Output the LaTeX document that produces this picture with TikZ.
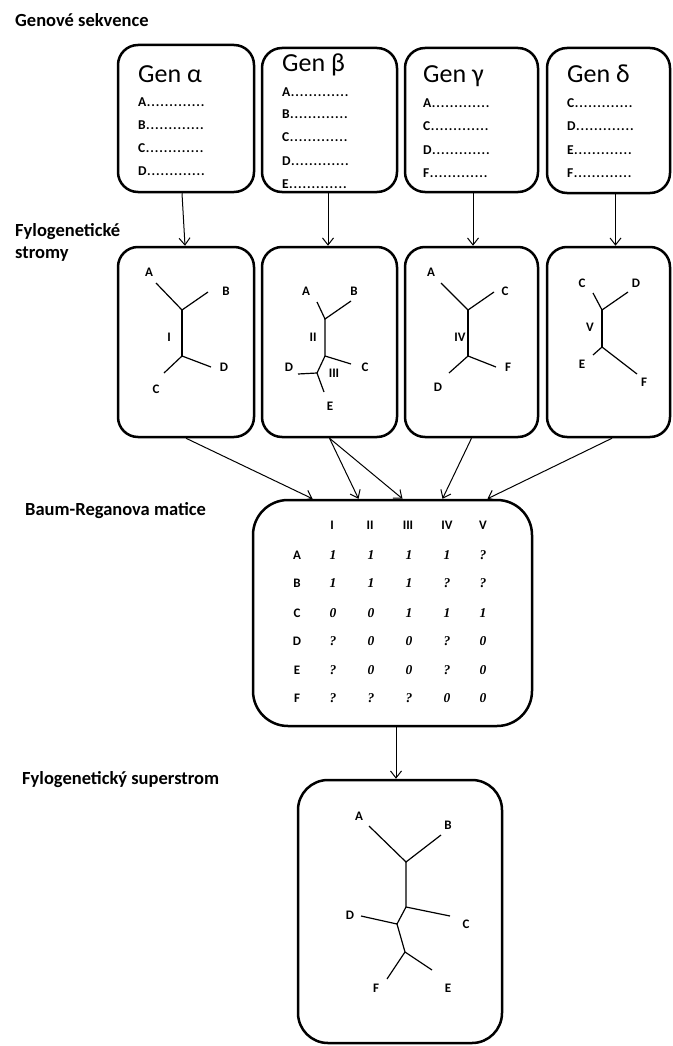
\documentclass[tikz,border=0pt]{standalone}
\usepackage{fontspec}
\setmainfont{Carlito}
\newfontfamily\valfont{Liberation Serif}
\usetikzlibrary{arrows.meta,calc}
\newcommand\dotrow[1]{#1\foreach\k in {1,...,13}{\makebox[4.5pt]{.}}}
\tikzset{
 box/.style={draw, line width=2.5pt, rounded corners=20pt, inner sep=0pt},
 conn/.style={line width=1pt, -{Straight Barb[length=7pt,width=11pt,line width=1pt]}},
 tline/.style={line width=1.2pt},
 title/.style={anchor=base west, inner sep=0pt, font=\fontsize{18.5}{22}\selectfont\bfseries},
 gen/.style={anchor=base west, inner sep=0pt, font=\fontsize{26}{30}\selectfont},
 seq/.style={anchor=base west, inner sep=0pt, font=\fontsize{13.5}{16}\selectfont\bfseries},
 lab/.style={inner sep=0pt, font=\fontsize{13}{15}\selectfont\bfseries},
 val/.style={inner sep=0pt, font=\fontsize{13.5}{15}\valfont\bfseries\itshape},
}
\begin{document}
\begin{tikzpicture}[x=1pt,y=-1pt]
\fill[white] (0,0) rectangle (672,1046);
\useasboundingbox (0,0) rectangle (672,1046);

% titles
\node[title] (h1) at (15,27) {Genové sekvence};
\node[title] (h2a) at (15,236) {Fylogenetické};
\node[title] (h2b) at (15,258) {stromy};
\node[title] (h3) at (25,515) {Baum-Reganova matice};
\node[title] (h4) at (22,784) {Fylogenetický superstrom};

% sequence boxes
\node[box, minimum width=136pt, minimum height=147pt] (g1) at (186,118.5) {};
\node[box, minimum width=135pt, minimum height=144pt] (g2) at (329.5,120) {};
\node[box, minimum width=133pt, minimum height=144pt] (g3) at (471.5,120) {};
\node[box, minimum width=123pt, minimum height=145pt] (g4) at (608.5,120.5) {};

\node[gen] (n1) at (138,83) {Gen α};
\node[seq] (s1a) at (138,107) {\dotrow{A}};
\node[seq] (s1b) at (138,129) {\dotrow{B}};
\node[seq] (s1c) at (138,152) {\dotrow{C}};
\node[seq] (s1d) at (138,175) {\dotrow{D}};

\node[gen] (n2) at (282,72) {Gen β};
\node[seq] (s2a) at (282,97) {\dotrow{A}};
\node[seq] (s2b) at (282,119) {\dotrow{B}};
\node[seq] (s2c) at (282,141) {\dotrow{C}};
\node[seq] (s2d) at (282,165) {\dotrow{D}};
\node[seq] (s2e) at (282,188) {\dotrow{E}};

\node[gen] (n3) at (423,83) {Gen γ};
\node[seq] (s3a) at (423,108) {\dotrow{A}};
\node[seq] (s3c) at (423,131) {\dotrow{C}};
\node[seq] (s3d) at (423,154) {\dotrow{D}};
\node[seq] (s3f) at (423,177) {\dotrow{F}};

\node[gen] (n4) at (567,83) {Gen δ};
\node[seq] (s4c) at (567,108) {\dotrow{C}};
\node[seq] (s4d) at (567,131) {\dotrow{D}};
\node[seq] (s4e) at (567,154) {\dotrow{E}};
\node[seq] (s4f) at (567,177) {\dotrow{F}};

% tree boxes
\node[box, minimum width=136pt, minimum height=190pt] (t1) at (186,342) {};
\node[box, minimum width=135pt, minimum height=190pt] (t2) at (329.5,342) {};
\node[box, minimum width=133pt, minimum height=190pt] (t3) at (471.5,342) {};
\node[box, minimum width=123pt, minimum height=190pt] (t4) at (608.5,342) {};

% arrows seq -> trees
\draw[conn] ($(g1.south)+(-4,0)$) -- ($(t1.north)+(-1,0)$);
\draw[conn] ($(g2.south)+(-1.5,0)$) -- ($(t2.north)+(-1.5,0)$);
\draw[conn] ($(g3.south)+(1.5,0)$) -- ($(t3.north)+(1.5,0)$);
\draw[conn] ($(g4.south)+(7,0)$) -- ($(t4.north)+(7,0)$);

% tree 1
\draw[tline] (156,283) -- (182,310) -- (208,292);
\draw[tline] (182,310) -- (182,356);
\draw[tline] (164,373) -- (182,356) -- (211,367);
\node[lab] (a1) at (149,272) {A};
\node[lab] (b1) at (226,291) {B};
\node[lab] (d1) at (224,367) {D};
\node[lab] (c1) at (156,389) {C};
\node[lab] (r1) at (169,337) {I};

% tree 2
\draw[tline] (317,302) -- (325,319) -- (351,301);
\draw[tline] (325,319) -- (325,356) -- (351,364);
\draw[tline] (325,356) -- (317,373) -- (298,374);
\draw[tline] (317,373) -- (324,392);
\node[lab] (a2) at (306,291) {A};
\node[lab] (b2) at (354,291) {B};
\node[lab] (c2) at (365,367) {C};
\node[lab] (d2) at (289,367) {D};
\node[lab] (e2) at (330,406) {E};
\node[lab] (r2) at (313,337) {II};
\node[lab] (r3) at (334,373) {III};

% tree 3
\draw[tline] (441,283) -- (468,310) -- (494,292);
\draw[tline] (468,310) -- (468,356);
\draw[tline] (449,373) -- (468,356) -- (496,367);
\node[lab] (a3) at (431,272) {A};
\node[lab] (c3) at (505,291) {C};
\node[lab] (f3) at (508,367) {F};
\node[lab] (d3) at (438,387) {D};
\node[lab] (r4) at (460,337) {IV};

% tree 4
\draw[tline] (593,293) -- (602,310) -- (628,292);
\draw[tline] (602,310) -- (602,347);
\draw[tline] (593,355) -- (602,347) -- (637,374);
\node[lab] (c4) at (582,283) {C};
\node[lab] (d4) at (636,283) {D};
\node[lab] (e4) at (582,364) {E};
\node[lab] (f4) at (644,382) {F};
\node[lab] (r5) at (590,327) {V};

% matrix box
\node[box, rounded corners=35pt, minimum width=279pt, minimum height=226pt] (m) at (392.5,613) {};

\draw[conn] (t1.south) -- ($(m.north)+(-80,0)$);
\draw[conn] (t2.south) -- ($(m.north)+(-34,0)$);
\draw[conn] (t2.south) -- ($(m.north)+(10,0)$);
\draw[conn] (t3.south) -- ($(m.north)+(50,0)$);
\draw[conn] ($(t4.south)+(3.5,0)$) -- ($(m.north)+(95,0)$);

% matrix content
\node[lab] (hI) at (332,525) {I};
\node[lab] (hII) at (370,525) {II};
\node[lab] (hIII) at (408,525) {III};
\node[lab] (hIV) at (447,525) {IV};
\node[lab] (hV) at (483,525) {V};
\foreach \r/\y/\a/\b/\c/\d/\e in {A/555/1/1/1/1/?, B/583/1/1/1/?/?, C/613/0/0/1/1/1, D/641/?/0/0/?/0, E/670/?/0/0/?/0, F/698/?/?/?/0/0}{
  \node[lab] (row\r) at (297,\y) {\r};
  \node[val] (v\r1) at (333,\y) {\a};
  \node[val] (v\r2) at (371,\y) {\b};
  \node[val] (v\r3) at (409,\y) {\c};
  \node[val] (v\r4) at (447,\y) {\d};
  \node[val] (v\r5) at (483,\y) {\e};
}

% supertree box
\node[box, rounded corners=30pt, minimum width=204pt, minimum height=263pt] (s) at (400,911.5) {};
\draw[conn] ($(m.south)+(3.5,0)$) -- ($(s.north)+(-4,0)$);

\draw[tline] (369,826) -- (406,862) -- (441,835);
\draw[tline] (406,862) -- (406,907) -- (450,916);
\draw[tline] (406,907) -- (397,924) -- (361,916);
\draw[tline] (397,924) -- (405,952) -- (387,979);
\draw[tline] (405,952) -- (432,970);
\node[lab] (sa) at (359,816) {A};
\node[lab] (sb) at (448,825) {B};
\node[lab] (sc) at (466,924) {C};
\node[lab] (sd) at (350,915) {D};
\node[lab] (sf) at (376,988) {F};
\node[lab] (se) at (448,988) {E};
\end{tikzpicture}
\end{document}
